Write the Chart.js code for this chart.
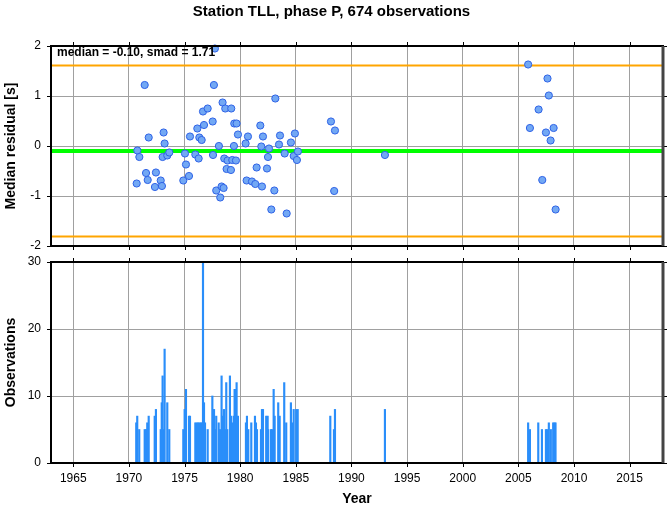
<!DOCTYPE html>
<html>
<head>
<meta charset="utf-8">
<script src="https://cdn.jsdelivr.net/npm/chart.js@4.4.1/dist/chart.umd.min.js"></script>
<style>
  body { margin: 0; background: #fff; }
  #wrap { position: relative; width: 669px; height: 511px; }
  canvas { position: absolute; left: 0; }
  #topChart { top: 0; }
  #bottomChart { top: 255px; }
</style>
</head>
<body>
<div id="wrap">
  <canvas id="topChart" width="669" height="255"></canvas>
  <canvas id="bottomChart" width="669" height="256"></canvas>
</div>
<script>
var titleText = "Station TLL, phase P, 674 observations";
var median = -0.10;
var smad = 1.71;
var yearTicks = [1965, 1970, 1975, 1980, 1985, 1990, 1995, 2000, 2005, 2010, 2015];
var residualTicks = [-2, -1, 0, 1, 2];
var obsTicks = [0, 10, 20, 30];

// one point per event: year and median residual
var resYears = [1970.70,1970.76,1970.94,1971.42,1971.54,1971.69,1971.78,1972.34,1972.43,1972.86,
  1972.97,1973.03,1973.12,1973.21,1973.45,1973.63,1974.89,1975.04,1975.13,1975.40,
  1975.49,1975.97,1976.15,1976.27,1976.33,1976.54,1976.66,1976.75,1977.08,1977.53,
  1977.56,1977.64,1977.73,1977.85,1978.09,1978.21,1978.33,1978.42,1978.51,1978.57,
  1978.66,1978.78,1978.87,1979.17,1979.20,1979.29,1979.44,1979.47,1979.62,1979.68,
  1979.80,1980.49,1980.58,1980.70,1981.06,1981.36,1981.48,1981.81,1981.90,1981.96,
  1982.05,1982.41,1982.50,1982.59,1982.80,1983.07,1983.16,1983.49,1983.58,1984.00,
  1984.18,1984.56,1984.81,1984.92,1985.10,1985.19,1988.16,1988.45,1988.52,1993.01,
  2005.88,2006.04,2006.82,2007.15,2007.48,2007.62,2007.74,2007.90,2008.17,2008.35];
var resValues = [-0.75,-0.09,-0.22,1.22,-0.54,-0.68,0.17,-0.82,-0.53,-0.69,
  -0.80,-0.22,0.27,0.05,-0.19,-0.13,-0.69,-0.15,-0.37,-0.60,
  0.19,-0.17,0.35,-0.25,0.17,0.12,0.69,0.42,0.75,0.49,
  -0.18,1.22,1.95,-0.89,0.00,-1.03,-0.81,0.87,-0.84,-0.25,
  0.75,-0.46,-0.29,-0.48,0.75,-0.28,0.00,0.45,-0.29,0.45,
  0.23,0.05,-0.69,0.19,-0.71,-0.76,-0.43,0.41,-0.01,-0.81,
  0.19,-0.45,-0.22,-0.05,-1.27,-0.89,0.95,0.03,0.21,-0.15,
  -1.35,0.07,-0.20,0.25,-0.28,-0.11,0.49,-0.90,0.31,-0.18,
  1.63,0.36,0.73,-0.68,0.27,1.35,1.01,0.11,0.36,-1.27];

// observations per event
var obsYears = [1970.66,1970.75,1970.93,1971.42,1971.54,1971.65,1971.78,1972.32,1972.43,1972.86,
  1972.95,1973.03,1973.12,1973.21,1973.45,1973.63,1974.89,1975.01,1975.13,1975.40,
  1975.49,1975.97,1976.09,1976.21,1976.33,1976.45,1976.54,1976.66,1976.75,1976.84,
  1977.08,1977.50,1977.59,1977.65,1977.77,1977.85,1978.07,1978.18,1978.33,1978.42,
  1978.54,1978.66,1978.75,1978.84,1979.08,1979.20,1979.32,1979.44,1979.50,1979.62,
  1979.68,1979.80,1980.52,1980.61,1980.73,1981.00,1981.33,1981.42,1981.51,1981.87,
  1981.96,1982.05,1982.34,1982.47,1982.52,1982.77,1982.88,1983.01,1983.10,1983.42,
  1983.55,1983.96,1984.14,1984.56,1984.68,1984.81,1985.04,1985.17,1988.10,1988.43,
  1988.52,1993.01,2005.88,2006.04,2006.79,2007.12,2007.48,2007.60,2007.74,2007.92,
  2008.13,2008.25,2008.34];
var obsCounts = [6,7,5,5,5,6,7,7,8,5,
  9,13,5,17,9,5,5,8,11,7,
  7,6,6,6,6,6,6,30,9,6,
  5,10,6,8,5,7,6,5,13,7,
  8,5,12,5,13,7,6,7,11,11,
  12,7,6,7,5,6,7,6,5,5,
  8,8,7,7,5,5,5,11,7,9,
  7,12,6,9,6,8,8,8,7,5,
  8,8,6,5,6,5,5,5,6,5,
  6,6,6];

var xMin = 1963, xMax = 2018;
var font = "'Liberation Sans', Arial, Helvetica, sans-serif";

function pts(xs, ys) {
  return xs.map(function (x, i) { return { x: x, y: ys[i] }; });
}
function hline(v) {
  return [{ x: xMin, y: v }, { x: xMax, y: v }];
}
function fixTicks(list) {
  return function (scale) {
    scale.ticks = list.map(function (v) { return { value: v }; });
  };
}
// pin the axis box size and drop the extra label padding
function fitY(s) {
  s.width = 51;
  s.paddingTop = 0; s.paddingBottom = 0;
}
function fitX(h) {
  return function (s) {
    s.height = h;
    s.paddingLeft = 0; s.paddingRight = 0;
  };
}

var framePlugin = {
  id: "frame",
  afterDraw: function (chart) {
    var ctx = chart.ctx, a = chart.chartArea, sx = chart.scales.x, sy = chart.scales.y;
    ctx.save();
    ctx.strokeStyle = "#000";
    ctx.lineWidth = 1;
    ctx.beginPath();
    sx.ticks.forEach(function (t) {
      var p = Math.round(sx.getPixelForValue(t.value)) + 0.5;
      ctx.moveTo(p, a.top - 4); ctx.lineTo(p, a.top);
      ctx.moveTo(p, a.bottom); ctx.lineTo(p, a.bottom + 4);
    });
    sy.ticks.forEach(function (t) {
      var p = Math.round(sy.getPixelForValue(t.value)) + 0.5;
      ctx.moveTo(a.left - 4, p); ctx.lineTo(a.left, p);
      ctx.moveTo(a.right, p); ctx.lineTo(a.right + 4, p);
    });
    ctx.stroke();
    ctx.lineWidth = 2;
    ctx.strokeRect(a.left, a.top, a.width, a.height);
    ctx.strokeStyle = "#444";
    ctx.lineWidth = 3;
    ctx.beginPath();
    ctx.moveTo(a.right, a.top); ctx.lineTo(a.right, a.bottom);
    ctx.stroke();
    if (chart.canvas.id === "topChart") {
      ctx.fillStyle = "#000";
      ctx.font = "bold 12px " + font;
      ctx.textBaseline = "middle";
      ctx.textAlign = "left";
      ctx.fillText("median = " + median.toFixed(2) + ", smad = " + smad.toFixed(2), a.left + 6, a.top + 7);
    }
    ctx.restore();
  }
};

var gridOpts = { color: "#A0A0A0", lineWidth: 1, drawTicks: false };

new Chart(document.getElementById("topChart").getContext("2d"), {
  data: {
    datasets: [
      {
        type: "scatter",
        data: pts(resYears, resValues),
        backgroundColor: "#72A8F4",
        borderColor: "#2E62E6",
        borderWidth: 1,
        pointRadius: 3.6,
        clip: false,
        order: 0
      },
      {
        type: "line",
        data: hline(median),
        borderColor: "#00FF00",
        borderWidth: 4,
        pointRadius: 0,
        order: 1
      },
      {
        type: "line",
        data: hline(median + smad),
        borderColor: "#FFA500",
        borderWidth: 2,
        pointRadius: 0,
        order: 2
      },
      {
        type: "line",
        data: hline(median - smad),
        borderColor: "#FFA500",
        borderWidth: 2,
        pointRadius: 0,
        order: 2
      }
    ]
  },
  options: {
    responsive: false,
    animation: false,
    devicePixelRatio: 1,
    layout: { padding: { left: 0, right: 6, top: 0, bottom: 0 } },
    plugins: {
      legend: { display: false },
      tooltip: { enabled: false },
      title: {
        display: true,
        text: titleText,
        color: "#000",
        font: { family: font, size: 15, weight: "bold" },
        padding: { top: 3, bottom: 25 }
      }
    },
    scales: {
      x: {
        type: "linear",
        min: xMin,
        max: xMax,
        afterBuildTicks: fixTicks(yearTicks),
        afterFit: fitX(9),
        ticks: { display: false },
        grid: gridOpts,
        border: { display: false }
      },
      y: {
        min: -2,
        max: 2,
        afterBuildTicks: fixTicks(residualTicks),
        afterFit: fitY,
        ticks: { color: "#000", padding: 10, font: { family: font, size: 12 } },
        grid: gridOpts,
        border: { display: false },
        title: {
          display: true,
          text: "Median residual [s]",
          color: "#000",
          font: { family: font, size: 14, weight: "bold" },
          padding: { top: 3, bottom: 0 }
        }
      }
    }
  },
  plugins: [framePlugin]
});

new Chart(document.getElementById("bottomChart").getContext("2d"), {
  type: "bar",
  data: {
    datasets: [{
      data: pts(obsYears, obsCounts),
      backgroundColor: "#2A8EFA",
      borderWidth: 0,
      barThickness: 1.5,
      grouped: false
    }]
  },
  options: {
    responsive: false,
    animation: false,
    devicePixelRatio: 1,
    layout: { padding: { left: 0, right: 6, top: 7, bottom: 0 } },
    plugins: {
      legend: { display: false },
      tooltip: { enabled: false }
    },
    scales: {
      x: {
        type: "linear",
        min: xMin,
        max: xMax,
        offset: false,
        afterBuildTicks: fixTicks(yearTicks),
        afterFit: fitX(48),
        ticks: {
          color: "#000",
          padding: 8,
          maxRotation: 0,
          font: { family: font, size: 12 },
          callback: function (v) { return String(v); }
        },
        grid: Object.assign({ offset: false }, gridOpts),
        border: { display: false },
        title: {
          display: true,
          text: "Year",
          color: "#000",
          font: { family: font, size: 14, weight: "bold" },
          padding: { top: 0, bottom: 3 }
        }
      },
      y: {
        min: 0,
        max: 30,
        afterBuildTicks: fixTicks(obsTicks),
        afterFit: fitY,
        ticks: { color: "#000", padding: 10, font: { family: font, size: 12 } },
        grid: gridOpts,
        border: { display: false },
        title: {
          display: true,
          text: "Observations",
          color: "#000",
          font: { family: font, size: 14, weight: "bold" },
          padding: { top: 3, bottom: 0 }
        }
      }
    }
  },
  plugins: [framePlugin]
});
</script>
</body>
</html>
